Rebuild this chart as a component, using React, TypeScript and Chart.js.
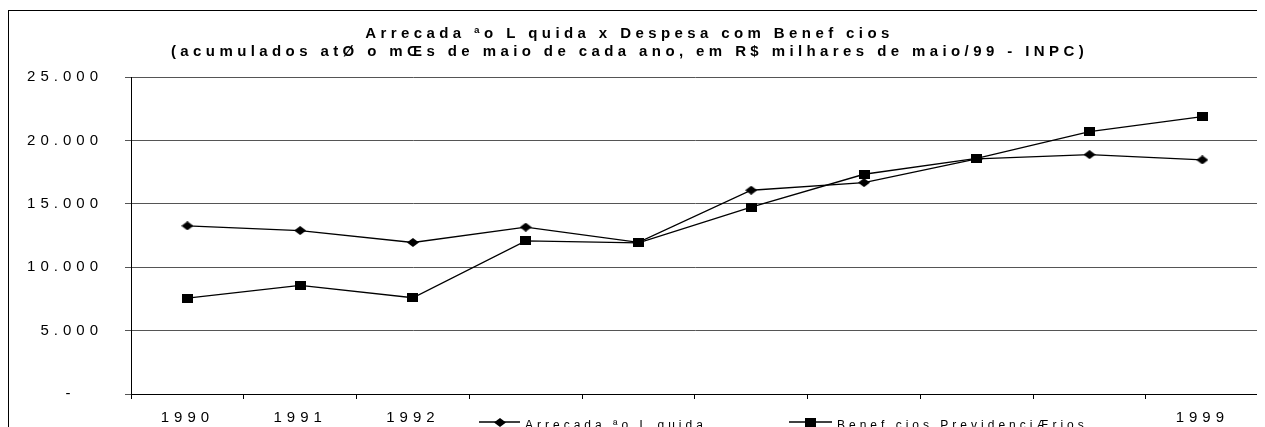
import React, { useEffect, useRef } from 'react';
import { Chart, registerables } from 'chart.js';

Chart.register(...registerables);

// ---- data ----
const years = ['1990', '1991', '1992', '1993', '1994', '1995', '1996', '1997', '1998', '1999'];
const arrecadacao = [13260, 12890, 11950, 13160, 11960, 16070, 16670, 18540, 18880, 18460];
const beneficios = [7560, 8560, 7590, 12080, 11920, 14730, 17330, 18590, 20690, 21870];
const yTickValues = [0, 5000, 10000, 15000, 20000, 25000];
const yTickLabels = ['-   ', '5.000', '10.000', '15.000', '20.000', '25.000'];
const titleLines = [
  'Arrecada ªo L quida x Despesa com Benef cios',
  '(acumulados atØ o mŒs de maio de cada ano, em R$ milhares de maio/99 - INPC)',
];
const seriesNames = ['Arrecada ªo L quida', 'Benef cios PrevidenciÆrios'];

const FONT = "'Liberation Sans', Arial, Helvetica, sans-serif";

function makeDiamond(): HTMLCanvasElement {
  const c = document.createElement('canvas');
  c.width = 12;
  c.height = 9;
  const g = c.getContext('2d')!;
  g.fillStyle = '#000';
  g.beginPath();
  g.moveTo(0, 4.5);
  g.lineTo(6, 0);
  g.lineTo(12, 4.5);
  g.lineTo(6, 9);
  g.closePath();
  g.fill();
  return c;
}

function makeSquare(): HTMLCanvasElement {
  const c = document.createElement('canvas');
  c.width = 11;
  c.height = 9;
  const g = c.getContext('2d')!;
  g.fillStyle = '#000';
  g.fillRect(0, 0, 11, 9);
  return c;
}

export default function App() {
  const ref = useRef<HTMLCanvasElement | null>(null);

  useEffect(() => {
    document.documentElement.style.overflow = 'hidden';
    document.body.style.overflow = 'hidden';
    const canvas = ref.current;
    if (!canvas) return;
    const diamond = makeDiamond();
    const square = makeSquare();

    const excelLook = {
      id: 'excelLook',
      afterLayout(chart: any) {
        const tb = chart.titleBlock;
        if (tb && !tb._ls) {
          const orig = tb.draw.bind(tb);
          tb.draw = (a: any) => {
            const c = chart.ctx as any;
            c.save();
            c.letterSpacing = '4.4px';
            orig(a);
            c.restore();
          };
          tb._ls = true;
        }
      },
      beforeDraw(chart: any) {
        (chart.ctx as any).letterSpacing = '5px';
      },
      afterDraw(chart: any) {
        const c = chart.ctx as any;
        c.save();
        // legend box (covers the middle x labels, like the original)
        c.fillStyle = '#fff';
        c.fillRect(476, 396, 664, 40);
        c.letterSpacing = '4px';
        c.font = `12px ${FONT}`;
        c.fillStyle = '#000';
        c.strokeStyle = '#000';
        c.lineWidth = 1.3;
        c.textBaseline = 'alphabetic';
        c.textAlign = 'left';
        const items = [
          { x1: 485, x2: 526, img: diamond, tx: 531, label: seriesNames[0] },
          { x1: 795, x2: 838, img: square, tx: 843, label: seriesNames[1] },
        ];
        const ly = 414;
        items.forEach((it) => {
          c.beginPath();
          c.moveTo(it.x1, ly);
          c.lineTo(it.x2, ly);
          c.stroke();
          const mx = (it.x1 + it.x2) / 2;
          c.drawImage(it.img, Math.round(mx - it.img.width / 2), Math.round(ly - it.img.height / 2));
          c.fillText(it.label, it.tx, 421);
        });
        c.restore();
        c.letterSpacing = '0px';
      },
    };

    const chart = new Chart(canvas, {
      type: 'line',
      data: {
        labels: years,
        datasets: [
          {
            label: seriesNames[0],
            data: arrecadacao,
            borderColor: '#000',
            backgroundColor: '#000',
            borderWidth: 1.3,
            pointStyle: diamond as any,
            pointRadius: 5,
            tension: 0,
            fill: false,
          },
          {
            label: seriesNames[1],
            data: beneficios,
            borderColor: '#000',
            backgroundColor: '#000',
            borderWidth: 1.3,
            pointStyle: square as any,
            pointRadius: 5,
            tension: 0,
            fill: false,
          },
        ],
      },
      options: {
        responsive: false,
        animation: false,
        devicePixelRatio: 1,
        layout: { padding: { left: 0, right: 0, top: 0, bottom: 9 } },
        plugins: {
          legend: { display: false },
          tooltip: { enabled: false },
          title: {
            display: true,
            text: titleLines,
            color: '#000',
            font: { family: FONT, size: 15, weight: 'bold', lineHeight: 1.2 },
            padding: { top: 17, bottom: 16 },
          },
        },
        scales: {
          x: {
            type: 'category',
            offset: true,
            grid: {
              display: true,
              offset: true,
              drawOnChartArea: false,
              drawTicks: true,
              tickLength: 5,
              tickColor: '#000',
              tickWidth: 1,
            },
            border: { display: true, color: '#000', width: 1 },
            ticks: {
              color: '#000',
              font: { family: FONT, size: 15, lineHeight: 1.2 },
              padding: 10,
              maxRotation: 0,
              autoSkip: false,
            },
            afterFit(scale: any) {
              scale.height = 30;
            },
          },
          y: {
            min: 0,
            max: 25000,
            afterBuildTicks(scale: any) {
              scale.ticks = yTickValues.map((v) => ({ value: v }));
            },
            grid: {
              color: '#555',
              lineWidth: 1,
              drawTicks: true,
              tickLength: 6,
              tickColor: '#555',
            },
            border: { display: true, color: '#000', width: 1 },
            ticks: {
              color: '#000',
              font: { family: FONT, size: 15, lineHeight: 1.2 },
              padding: 22,
              callback: (value: any) => {
                const i = yTickValues.indexOf(Number(value));
                return i >= 0 ? yTickLabels[i] : '';
              },
            },
            afterFit(scale: any) {
              scale.width = 137;
            },
          },
        },
      },
      plugins: [excelLook],
    });

    return () => chart.destroy();
  }, []);

  return (
    <div style={{ position: 'relative', width: 1257, height: 419, overflow: 'hidden' }}>
      <div
        style={{
          position: 'absolute',
          left: 0,
          top: 2,
          width: 1400,
          height: 600,
          borderLeft: '1px solid #000',
          borderTop: '1px solid #000',
        }}
      />
      <canvas
        ref={ref}
        width={1271}
        height={425}
        style={{ position: 'absolute', left: -14, top: 0, width: 1271, height: 425 }}
      />
    </div>
  );
}
